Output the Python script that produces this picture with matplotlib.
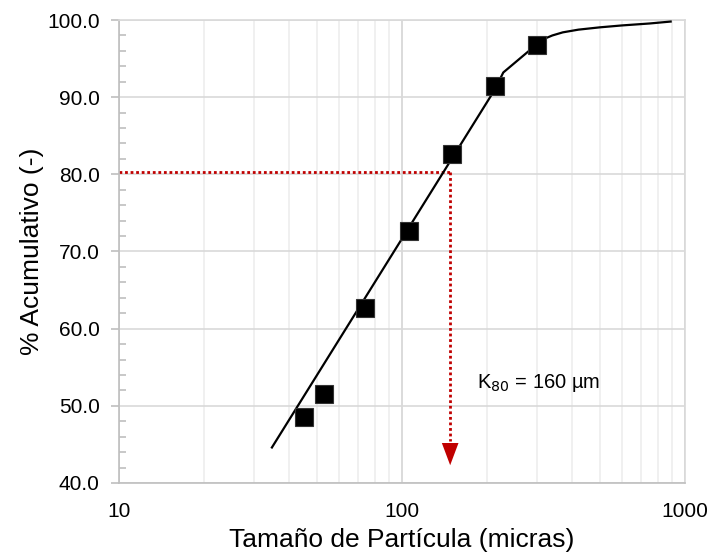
import numpy as np
import matplotlib.pyplot as plt
from matplotlib.ticker import FixedLocator, FuncFormatter, NullFormatter

plt.rcParams['font.family'] = ['Liberation Sans', 'DejaVu Sans']

# sieve data
sizes = [45, 53, 74, 106, 150, 213, 300]
cumPassing = [48.6, 51.5, 62.7, 72.7, 82.7, 91.4, 96.7]

# fitted curve
fitX = [34.7, 213, 228, 281, 300, 320, 340, 370, 420, 500, 600, 750, 890]
fitY = [44.6, 91.0, 93.2, 96.0, 96.9, 97.6, 98.0, 98.4, 98.75, 99.05, 99.3, 99.55, 99.8]

k80Size = 148
k80Level = 80.26
k80Label = "K$_{80}$ = 160 µm"

red = "#C00000"

fig = plt.figure(figsize=(7.13, 5.59), dpi=100)
ax = fig.add_axes([0.1669, 0.136, 0.7938, 0.8282])

ax.set_xscale("log")
ax.set_xlim(10, 1000)
ax.set_ylim(40, 100)

# grid
ax.xaxis.set_major_locator(FixedLocator([10, 100, 1000]))
minors = [m * d for d in (10, 100) for m in range(2, 10)]
ax.xaxis.set_minor_locator(FixedLocator(minors))
ax.xaxis.set_minor_formatter(NullFormatter())
ax.xaxis.set_major_formatter(FuncFormatter(lambda v, p: f"{v:.0f}"))
ax.yaxis.set_major_locator(FixedLocator(np.arange(40, 101, 10)))
ax.yaxis.set_minor_locator(FixedLocator([v for v in np.arange(40, 100, 2) if v % 10 != 0]))
ax.yaxis.set_major_formatter(FuncFormatter(lambda v, p: f"{v:.1f}"))

ax.grid(which="major", axis="x", color="#D4D4D4", lw=1.2)
ax.grid(which="minor", axis="x", color="#EDEDED", lw=1.2)
ax.grid(which="major", axis="y", color="#D9D9D9", lw=1.2)
ax.set_axisbelow(True)

for s in ax.spines.values():
    s.set_color("#D9D9D9")
    s.set_linewidth(1.2)
ax.spines["left"].set_color("#BFBFBF")
ax.spines["bottom"].set_color("#BFBFBF")

ax.tick_params(axis="x", which="both", length=0, pad=14, labelsize=15)
ax.tick_params(axis="y", which="major", length=6, color="#BFBFBF", width=1.2, labelsize=15, pad=8)
ax.tick_params(axis="y", which="minor", length=5, direction="in", color="#BFBFBF", width=1.2)

# K80 guide
ax.plot([10, k80Size], [k80Level, k80Level], color=red, lw=2, ls=(0, (1, 1)), zorder=2)
ax.plot([k80Size, k80Size], [k80Level, 45.5], color=red, lw=2, ls=(0, (1, 1)), zorder=2)
ax.annotate("", xy=(k80Size, 42.3), xytext=(k80Size, 45.6),
            arrowprops=dict(arrowstyle="-|>,head_length=1.6,head_width=0.6",
                            color=red, lw=0, shrinkA=0, shrinkB=0), zorder=3)

ax.plot(fitX, fitY, color="black", lw=1.6, zorder=3)
ax.plot(sizes, cumPassing, ls="none", marker="s", ms=13, mfc="black", mec="#333333", mew=0.8, zorder=4)

ax.text(184, 53.0, k80Label, fontsize=14.5, va="center", ha="left")

ax.set_xlabel("Tamaño de Partícula (micras)", fontsize=19, labelpad=5)
ax.set_ylabel("% Acumulativo (-)", fontsize=19, labelpad=2)

fig.savefig("out.png", dpi=100)
